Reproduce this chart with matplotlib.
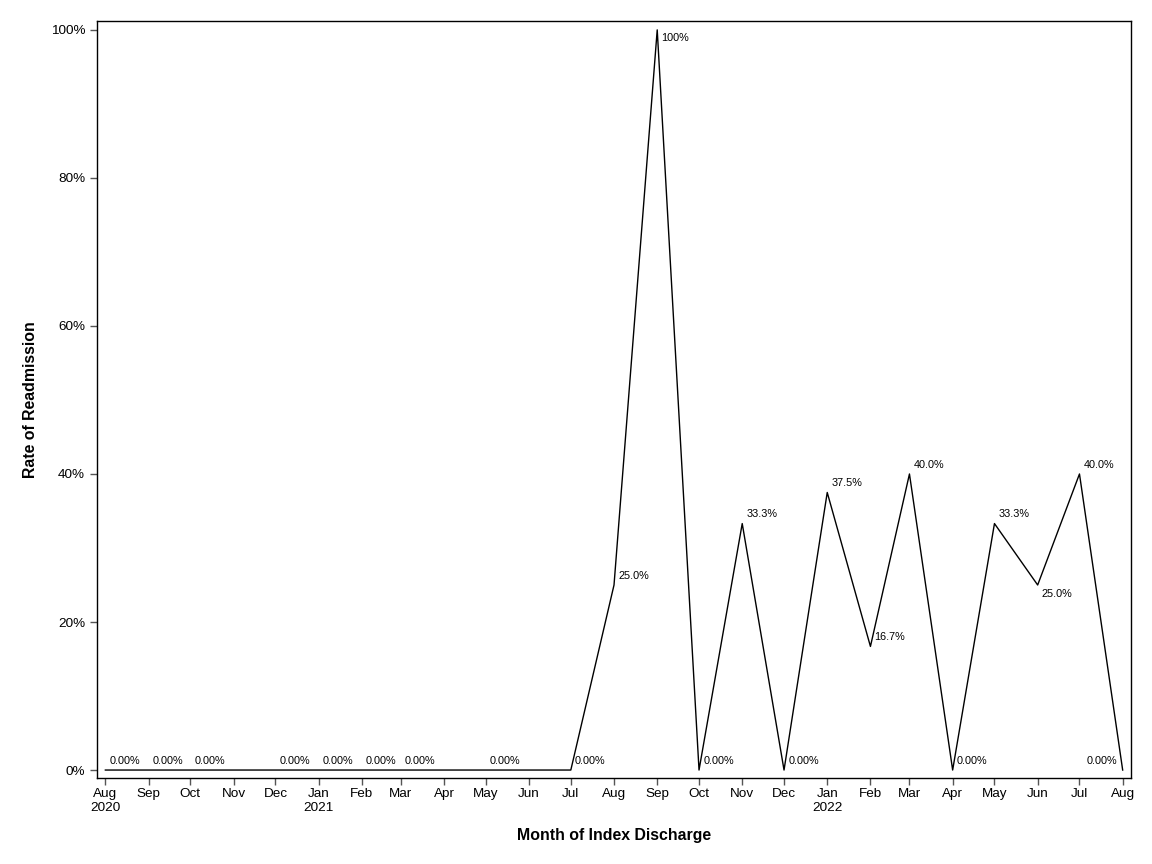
import pandas as pd
import matplotlib
matplotlib.use("Agg")
import matplotlib.pyplot as plt
from matplotlib.ticker import FuncFormatter

plt.rcParams['font.family'] = ['Liberation Sans', 'DejaVu Sans']

months = ['2020-08', '2020-09', '2020-10', '2020-12', '2021-01', '2021-02',
          '2021-03', '2021-05', '2021-07', '2021-08', '2021-09', '2021-10',
          '2021-11', '2021-12', '2022-01', '2022-02', '2022-03', '2022-04',
          '2022-05', '2022-06', '2022-07', '2022-08']
rates = [0.0, 0.0, 0.0, 0.0, 0.0, 0.0, 0.0, 0.0, 0.0, 25.0, 100.0, 0.0,
         33.3, 0.0, 37.5, 16.7, 40.0, 0.0, 33.3, 25.0, 40.0, 0.0]

dates = pd.to_datetime(months)

def fmt_rate(v):
    if v == 0:
        return '0.00%'
    if v >= 100:
        return '100%'
    return f'{v:.1f}%'

# label placement (offset points, ha, va); default is upper right
place = {10: (3, -2, 'left', 'top'),
         19: (3, -3, 'left', 'top'),
         21: (-4, 3, 'right', 'bottom')}

fig = plt.figure(figsize=(11.52, 8.64), dpi=100)
ax = fig.add_axes([0.0842, 0.0995, 0.8976, 0.8762])

ax.plot(dates, rates, color='black', linewidth=1)

for i, (d, v) in enumerate(zip(dates, rates)):
    dx, dy, ha, va = place.get(i, (3, 3, 'left', 'bottom'))
    ax.annotate(fmt_rate(v), (d, v), xytext=(dx, dy), textcoords='offset points',
                ha=ha, va=va, fontsize=7.8)

tick_dates = pd.date_range('2020-08-01', '2022-08-01', freq='MS')
tick_labels = [d.strftime('%b') + ('\n' + d.strftime('%Y') if (d.month == 1 or i == 0) else '')
               for i, d in enumerate(tick_dates)]
ax.set_xticks(tick_dates)
ax.set_xticklabels(tick_labels, fontsize=9.7, va='top')
ax.set_xlim(pd.Timestamp('2020-07-26'), pd.Timestamp('2022-08-07'))

ax.set_ylim(-1.08, 101.2)
ax.set_yticks([0, 20, 40, 60, 80, 100])
ax.yaxis.set_major_formatter(FuncFormatter(lambda v, p: f'{v:.0f}%'))
ax.tick_params(axis='both', labelsize=9.7, colors='#555555', labelcolor='black',
               length=5, width=1, direction='out')
ax.tick_params(axis='x', pad=2.5)

ax.set_xlabel('Month of Index Discharge', fontsize=11.4, fontweight='bold', labelpad=10)
ax.set_ylabel('Rate of Readmission', fontsize=11.4, fontweight='bold', labelpad=9)

for s in ax.spines.values():
    s.set_linewidth(1)

fig.savefig('out.png', dpi=100)
